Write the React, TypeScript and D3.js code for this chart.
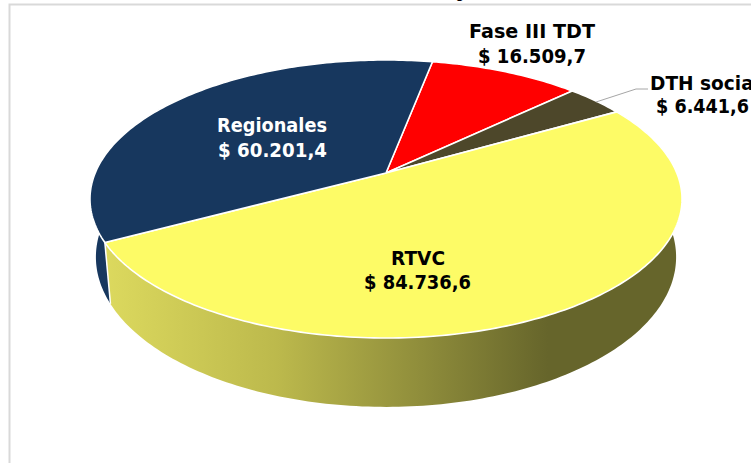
import React from "react";
import * as d3 from "d3";

const categories = ["Fase III TDT", "DTH social", "RTVC", "Regionales"];
const values = [16509.7, 6441.6, 84736.6, 60201.4];
const valueLabels = ["$ 16.509,7", "$ 6.441,6", "$ 84.736,6", "$ 60.201,4"];
const topColors = ["#ff0000", "#4d472a", "#fdfb66", "#17375e"];
const wallColors = ["#aa0000", "#33301c", "url(#yellowWall)", "#17375e"];
const wallStops: [string, string][] = [
  ["0%", "#dcd95e"],
  ["30%", "#bcb94c"],
  ["55%", "#8f8d3b"],
  ["77%", "#66652b"],
  ["100%", "#66652b"],
];

const W = 751;
const H = 463;
// perspective disc: maps the unit circle to the screen
const cx = 386;
const tipY = 173;
const persp = -0.187;
const yGain = 101.8;
const xGain = 290.8;
const depth = 56;
const bottomShrink = 0.98;

const startDeg = 10.9;
const arcs = d3
  .pie<number>()
  .sort(null)
  .startAngle((startDeg * Math.PI) / 180)
  .endAngle(((startDeg + 360) * Math.PI) / 180)
  .padAngle(0)(values);

const proj = (a: number): [number, number] => {
  const u = Math.sin(a);
  const v = -Math.cos(a);
  const k = 1 + persp * v;
  return [cx + (xGain * u) / k, (yGain * v + tipY) / k];
};
const projBottom = (a: number): [number, number] => {
  const v = -Math.cos(a);
  const k = 1 + persp * v;
  const [x, y] = proj(a);
  return [cx + (x - cx) * bottomShrink, y + depth / k];
};

const angles = (a0: number, a1: number) => {
  const n = Math.max(2, Math.ceil(((a1 - a0) * 180) / Math.PI));
  return d3.range(n + 1).map((i) => a0 + ((a1 - a0) * i) / n);
};

const line = d3.line<[number, number]>();

const topPath = (a0: number, a1: number) =>
  (line([[cx, tipY], ...angles(a0, a1).map((a) => proj(a))]) as string) + "Z";

const wallPath = (a0: number, a1: number) => {
  const as = angles(a0, a1);
  return (
    (line([
      ...as.map((a) => proj(a)),
      ...as.slice().reverse().map((a) => projBottom(a)),
    ]) as string) + "Z"
  );
};

const labelX = [532, 705, 418, 272];
const nameY = [38, 90, 265, 132];
const valueY = [63, 113, 289, 157];
const nameWidths = [126, 110, 54, 110];
const valueWidths = [108, 93, 107, 109];
const valueX = [532, 702.5, 417.5, 272.5];
const labelFill = ["#000", "#000", "#000", "#fff"];

const fam = "Tahoma, 'DejaVu Sans', Verdana, sans-serif";

export default function App() {
  const leader = d3.line<[number, number]>()([
    [596, 102],
    [636, 89],
    [648, 89],
  ]) as string;
  const visible = [2, 3]; // front-facing walls
  return (
    <svg
      width={W}
      height={H}
      viewBox={`0 0 ${W} ${H}`}
      style={{ position: "absolute", left: 0, top: 0, display: "block" }}
    >
      <defs>
        <linearGradient id="yellowWall" gradientUnits="userSpaceOnUse" x1={105} x2={680} y1={0} y2={0}>
          {wallStops.map(([o, c]) => (
            <stop key={o} offset={o} stopColor={c} />
          ))}
        </linearGradient>
      </defs>
      <rect width={W} height={H} fill="#fff" />
      <path d={`M9.5 ${H}V4.5H${W}`} fill="none" stroke="#d9d9d9" strokeWidth={2} />
      <text x={460} y={-2} fontFamily={fam} fontSize={14} textAnchor="middle" fill="#000">
        g
      </text>
      {visible.map((i) => (
        <path
          key={"w" + i}
          d={wallPath(arcs[i].startAngle, i === 3 ? (285 * Math.PI) / 180 : arcs[i].endAngle)}
          fill={wallColors[i]}
          stroke="none"
        />
      ))}
      <path
        d={line([proj(arcs[3].startAngle), projBottom(arcs[3].startAngle)]) as string}
        stroke="#fff"
        strokeWidth={1.5}
        fill="none"
      />
      {arcs.map((d, i) => (
        <path
          key={"t" + i}
          d={topPath(d.startAngle, d.endAngle)}
          fill={topColors[i]}
          stroke="#fff"
          strokeWidth={1.6}
          strokeLinejoin="round"
        />
      ))}
      <path d={leader} fill="none" stroke="#a6a6a6" strokeWidth={1} />
      {categories.map((c, i) => (
        <g key={c} fontFamily={fam} fontWeight={700} fontSize={20} fill={labelFill[i]} textAnchor="middle">
          <text x={labelX[i]} y={nameY[i]} textLength={nameWidths[i]} lengthAdjust="spacingAndGlyphs">
            {c}
          </text>
          <text x={valueX[i]} y={valueY[i]} textLength={valueWidths[i]} lengthAdjust="spacingAndGlyphs">
            {valueLabels[i]}
          </text>
        </g>
      ))}
    </svg>
  );
}
